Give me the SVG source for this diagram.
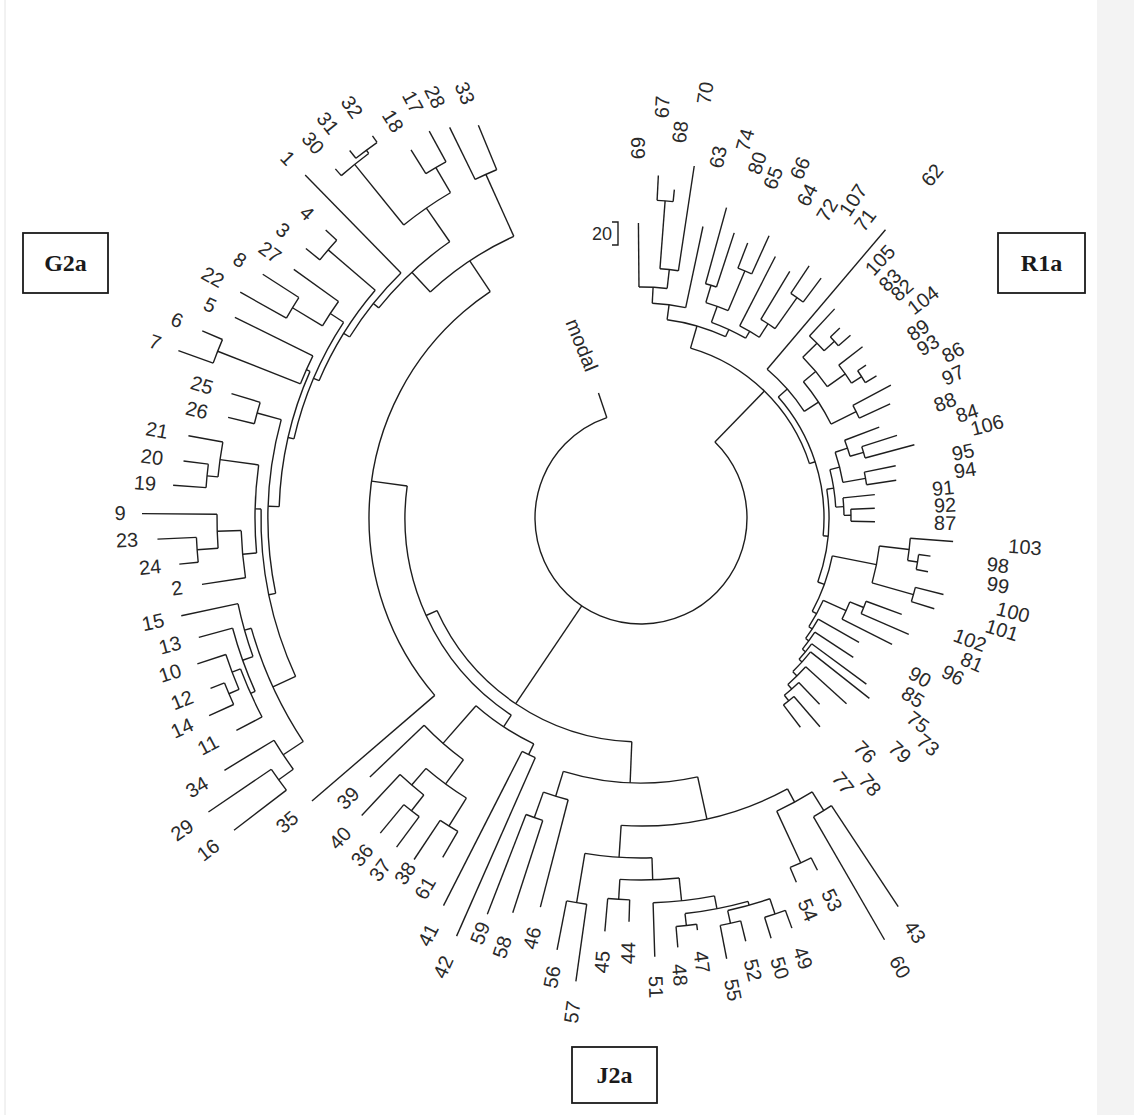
<svg xmlns="http://www.w3.org/2000/svg" width="1134" height="1115" viewBox="0 0 1134 1115">
<style>
.br path,.br circle{fill:none;stroke:#1e1e1e;stroke-width:1.4}
.t{font-family:"Liberation Sans",Arial,sans-serif;font-size:20px;fill:#2a2a2a;text-anchor:middle;dominant-baseline:central}
.box rect{fill:#fff;stroke:#1a1a1a;stroke-width:1.8}
.box text{font-family:"Liberation Serif","Times New Roman",serif;font-size:24px;font-weight:bold;fill:#1a1a1a;text-anchor:middle;dominant-baseline:central}
</style>
<rect width="1134" height="1115" fill="#fff"/>
<rect x="1097" y="0" width="37" height="1115" fill="#f3f3f3"/>
<line x1="5" y1="0" x2="5" y2="1115" stroke="#e4e4e4" stroke-width="1"/>

<!-- fan dendrogram: radials are drawn along +x then rotated; arcs are dashed circles (pathLength 360 = degrees) -->
<g id="branches" class="br" transform="translate(641 518)">
<!-- root -->
<circle r="106" transform="rotate(-45.8)" pathLength="360" stroke-dasharray="297 720"/>
<path transform="rotate(251.2)" d="M106 0H132"/>
<path transform="rotate(-45.8)" d="M106 0H177"/>
<path transform="rotate(124)" d="M106 0H224"/>
<!-- G2a + J2a -->
<circle r="224" transform="rotate(92.35)" pathLength="360" stroke-dasharray="63.25 720"/>
<path transform="rotate(92.35)" d="M224 0H265"/>
<path transform="rotate(155.6)" d="M224 0H236"/>
<circle r="236" transform="rotate(123.35)" pathLength="360" stroke-dasharray="64.45 720"/>
<path transform="rotate(123.35)" d="M236 0H250"/>
<path transform="rotate(187.8)" d="M236 0H272"/>
<!-- 39..42 -->
<circle r="250" transform="rotate(115.4)" pathLength="360" stroke-dasharray="15.9 720"/>
<path transform="rotate(115.4)" d="M250 0H262"/>
<path transform="rotate(131.3)" d="M250 0H300"/>
<circle r="262" transform="rotate(113.8)" pathLength="360" stroke-dasharray="3.2 720"/>
<path transform="rotate(113.8)" d="M262 0H457"/>
<path transform="rotate(117)" d="M262 0H435"/>
<circle r="300" transform="rotate(126.3)" pathLength="360" stroke-dasharray="10 720"/>
<path transform="rotate(136.3)" d="M300 0H375"/>
<path transform="rotate(126.3)" d="M300 0H330"/>
<circle r="330" transform="rotate(121.95)" pathLength="360" stroke-dasharray="8.7 720"/>
<path transform="rotate(130.65)" d="M330 0H352"/>
<path transform="rotate(121.95)" d="M330 0H363"/>
<circle r="352" transform="rotate(128.1)" pathLength="360" stroke-dasharray="5.1 720"/>
<path transform="rotate(133.2)" d="M352 0H408"/>
<path transform="rotate(128.1)" d="M352 0H372"/>
<circle r="372" transform="rotate(126.6)" pathLength="360" stroke-dasharray="3 720"/>
<path transform="rotate(129.6)" d="M372 0H409"/>
<path transform="rotate(126.6)" d="M372 0H410"/>
<circle r="363" transform="rotate(120.3)" pathLength="360" stroke-dasharray="3.3 720"/>
<path transform="rotate(123.6)" d="M363 0H410"/>
<path transform="rotate(120.3)" d="M363 0H393"/>
<!-- G2a -->
<circle r="272" transform="rotate(139.3)" pathLength="360" stroke-dasharray="97.05 720"/>
<path transform="rotate(139.3)" d="M272 0H434"/>
<path transform="rotate(236.35)" d="M272 0H309"/>
<circle r="309" transform="rotate(227)" pathLength="360" stroke-dasharray="18.7 720"/>
<path transform="rotate(245.7)" d="M309 0H377"/>
<path transform="rotate(227)" d="M309 0H336"/>
<circle r="377" transform="rotate(243.9)" pathLength="360" stroke-dasharray="3.6 720"/>
<path transform="rotate(247.5)" d="M377 0H425"/>
<path transform="rotate(243.9)" d="M377 0H435"/>
<circle r="336" transform="rotate(218.7)" pathLength="360" stroke-dasharray="16.6 720"/>
<path transform="rotate(235.3)" d="M336 0H377"/>
<path transform="rotate(218.7)" d="M336 0H343"/>
<circle r="377" transform="rotate(231)" pathLength="360" stroke-dasharray="8.65 720"/>
<path transform="rotate(239.65)" d="M377 0H406"/>
<path transform="rotate(231)" d="M377 0H455"/>
<circle r="406" transform="rotate(238)" pathLength="360" stroke-dasharray="3.3 720"/>
<path transform="rotate(241.3)" d="M406 0H441"/>
<path transform="rotate(238)" d="M406 0H434"/>
<circle r="455" transform="rotate(228.8)" pathLength="360" stroke-dasharray="4.45 720"/>
<path transform="rotate(228.8)" d="M455 0H464"/>
<path transform="rotate(233.25)" d="M455 0H459"/>
<circle r="459" transform="rotate(231.6)" pathLength="360" stroke-dasharray="3.3 720"/>
<path transform="rotate(231.6)" d="M459 0H469"/>
<path transform="rotate(234.9)" d="M459 0H467"/>
<circle r="343" transform="rotate(211.85)" pathLength="360" stroke-dasharray="13.75 720"/>
<path transform="rotate(225.6)" d="M343 0H480"/>
<path transform="rotate(211.85)" d="M343 0H350"/>
<circle r="350" transform="rotate(203.1)" pathLength="360" stroke-dasharray="17.5 720"/>
<path transform="rotate(220.6)" d="M350 0H412"/>
<path transform="rotate(203.1)" d="M350 0H356"/>
<circle r="412" transform="rotate(218.8)" pathLength="360" stroke-dasharray="3.6 720"/>
<path transform="rotate(222.4)" d="M412 0H427"/>
<path transform="rotate(218.8)" d="M412 0H430"/>
<circle r="356" transform="rotate(192.85)" pathLength="360" stroke-dasharray="20.5 720"/>
<path transform="rotate(213.35)" d="M356 0H372"/>
<path transform="rotate(192.85)" d="M356 0H362"/>
<circle r="372" transform="rotate(211.1)" pathLength="360" stroke-dasharray="4.5 720"/>
<path transform="rotate(215.6)" d="M372 0H427"/>
<path transform="rotate(211.1)" d="M372 0H407"/>
<circle r="407" transform="rotate(209.4)" pathLength="360" stroke-dasharray="3.4 720"/>
<path transform="rotate(212.8)" d="M407 0H450"/>
<path transform="rotate(209.4)" d="M407 0H460"/>
<circle r="362" transform="rotate(181.8)" pathLength="360" stroke-dasharray="22.1 720"/>
<path transform="rotate(203.9)" d="M362 0H366"/>
<path transform="rotate(181.8)" d="M362 0H373"/>
<circle r="366" transform="rotate(201.5)" pathLength="360" stroke-dasharray="4.8 720"/>
<path transform="rotate(206.3)" d="M366 0H453"/>
<path transform="rotate(201.5)" d="M366 0H455"/>
<circle r="455" transform="rotate(199.9)" pathLength="360" stroke-dasharray="3.2 720"/>
<path transform="rotate(203.1)" d="M455 0H477"/>
<path transform="rotate(199.9)" d="M455 0H492"/>
<circle r="373" transform="rotate(168.35)" pathLength="360" stroke-dasharray="26.95 720"/>
<path transform="rotate(195.3)" d="M373 0H398"/>
<path transform="rotate(168.35)" d="M373 0H380"/>
<circle r="398" transform="rotate(193.7)" pathLength="360" stroke-dasharray="3.2 720"/>
<path transform="rotate(196.9)" d="M398 0H428"/>
<path transform="rotate(193.7)" d="M398 0H425"/>
<circle r="380" transform="rotate(155.35)" pathLength="360" stroke-dasharray="26 720"/>
<path transform="rotate(181.35)" d="M380 0H386"/>
<path transform="rotate(155.35)" d="M380 0H405"/>
<circle r="386" transform="rotate(174.8)" pathLength="360" stroke-dasharray="13.1 720"/>
<path transform="rotate(187.9)" d="M386 0H425"/>
<path transform="rotate(174.8)" d="M386 0H400"/>
<circle r="425" transform="rotate(185.55)" pathLength="360" stroke-dasharray="4.75 720"/>
<path transform="rotate(190.3)" d="M425 0H460"/>
<path transform="rotate(185.55)" d="M425 0H436"/>
<circle r="436" transform="rotate(184)" pathLength="360" stroke-dasharray="3.1 720"/>
<path transform="rotate(187.1)" d="M436 0H461"/>
<path transform="rotate(184)" d="M436 0H469"/>
<circle r="400" transform="rotate(171.4)" pathLength="360" stroke-dasharray="6.8 720"/>
<path transform="rotate(178.2)" d="M400 0H424"/>
<path transform="rotate(171.4)" d="M400 0H444"/>
<circle r="424" transform="rotate(175.9)" pathLength="360" stroke-dasharray="4.6 720"/>
<path transform="rotate(180.5)" d="M424 0H499"/>
<path transform="rotate(175.9)" d="M424 0H445"/>
<circle r="445" transform="rotate(174.3)" pathLength="360" stroke-dasharray="3.2 720"/>
<path transform="rotate(177.5)" d="M445 0H484"/>
<path transform="rotate(174.3)" d="M445 0H464"/>
<circle r="405" transform="rotate(146.5)" pathLength="360" stroke-dasharray="17.7 720"/>
<path transform="rotate(164.2)" d="M405 0H412"/>
<path transform="rotate(146.5)" d="M405 0H429"/>
<circle r="412" transform="rotate(160.35)" pathLength="360" stroke-dasharray="7.65 720"/>
<path transform="rotate(168)" d="M412 0H470"/>
<path transform="rotate(160.35)" d="M412 0H423"/>
<circle r="423" transform="rotate(155.8)" pathLength="360" stroke-dasharray="9.1 720"/>
<path transform="rotate(164.9)" d="M423 0H458"/>
<path transform="rotate(155.8)" d="M423 0H428"/>
<circle r="428" transform="rotate(152.3)" pathLength="360" stroke-dasharray="7.05 720"/>
<path transform="rotate(159.35)" d="M428 0H437"/>
<path transform="rotate(152.3)" d="M428 0H457"/>
<circle r="437" transform="rotate(156.9)" pathLength="360" stroke-dasharray="4.9 720"/>
<path transform="rotate(161.8)" d="M437 0H467"/>
<path transform="rotate(156.9)" d="M437 0H448"/>
<circle r="448" transform="rotate(155.4)" pathLength="360" stroke-dasharray="3 720"/>
<path transform="rotate(158.4)" d="M448 0H463"/>
<path transform="rotate(155.4)" d="M448 0H475"/>
<circle r="429" transform="rotate(144.15)" pathLength="360" stroke-dasharray="4.65 720"/>
<path transform="rotate(148.8)" d="M429 0H487"/>
<path transform="rotate(144.15)" d="M429 0H447"/>
<circle r="447" transform="rotate(142.5)" pathLength="360" stroke-dasharray="3.3 720"/>
<path transform="rotate(145.8)" d="M447 0H523"/>
<path transform="rotate(142.5)" d="M447 0H513"/>
<!-- J2a -->
<circle r="265" transform="rotate(77.65)" pathLength="360" stroke-dasharray="29.4 720"/>
<path transform="rotate(107.05)" d="M265 0H291"/>
<path transform="rotate(77.65)" d="M265 0H308"/>
<circle r="291" transform="rotate(104.5)" pathLength="360" stroke-dasharray="5.1 720"/>
<path transform="rotate(104.5)" d="M291 0H402"/>
<path transform="rotate(109.6)" d="M291 0H318"/>
<circle r="318" transform="rotate(108)" pathLength="360" stroke-dasharray="3.2 720"/>
<path transform="rotate(111.2)" d="M318 0H425"/>
<path transform="rotate(108)" d="M318 0H415"/>
<circle r="308" transform="rotate(61.6)" pathLength="360" stroke-dasharray="32.1 720"/>
<path transform="rotate(93.7)" d="M308 0H340"/>
<path transform="rotate(61.6)" d="M308 0H323"/>
<circle r="340" transform="rotate(88.15)" pathLength="360" stroke-dasharray="11.35 720"/>
<path transform="rotate(99.5)" d="M340 0H390"/>
<path transform="rotate(88.15)" d="M340 0H362"/>
<circle r="390" transform="rotate(98)" pathLength="360" stroke-dasharray="3 720"/>
<path transform="rotate(101)" d="M390 0H440"/>
<path transform="rotate(98)" d="M390 0H468"/>
<circle r="362" transform="rotate(83.95)" pathLength="360" stroke-dasharray="9.4 720"/>
<path transform="rotate(93.35)" d="M362 0H382"/>
<path transform="rotate(83.95)" d="M362 0H385"/>
<circle r="382" transform="rotate(91.7)" pathLength="360" stroke-dasharray="3.3 720"/>
<path transform="rotate(95)" d="M382 0H415"/>
<path transform="rotate(91.7)" d="M382 0H404"/>
<circle r="385" transform="rotate(79)" pathLength="360" stroke-dasharray="9.2 720"/>
<path transform="rotate(88.2)" d="M385 0H439"/>
<path transform="rotate(79)" d="M385 0H398"/>
<circle r="398" transform="rotate(74.4)" pathLength="360" stroke-dasharray="9.25 720"/>
<path transform="rotate(83.65)" d="M398 0H410"/>
<path transform="rotate(74.4)" d="M398 0H402"/>
<circle r="410" transform="rotate(82.2)" pathLength="360" stroke-dasharray="2.9 720"/>
<path transform="rotate(85.1)" d="M410 0H431"/>
<path transform="rotate(82.2)" d="M410 0H416"/>
<circle r="402" transform="rotate(71.3)" pathLength="360" stroke-dasharray="6.25 720"/>
<path transform="rotate(77.55)" d="M402 0H415"/>
<path transform="rotate(71.3)" d="M402 0H418"/>
<circle r="415" transform="rotate(76.1)" pathLength="360" stroke-dasharray="2.9 720"/>
<path transform="rotate(79)" d="M415 0H449"/>
<path transform="rotate(76.1)" d="M415 0H436"/>
<circle r="418" transform="rotate(69.8)" pathLength="360" stroke-dasharray="3 720"/>
<path transform="rotate(72.8)" d="M418 0H440"/>
<path transform="rotate(69.8)" d="M418 0H437"/>
<circle r="323" transform="rotate(58)" pathLength="360" stroke-dasharray="7.15 720"/>
<path transform="rotate(65.15)" d="M323 0H380"/>
<path transform="rotate(58)" d="M323 0H345"/>
<circle r="380" transform="rotate(63.4)" pathLength="360" stroke-dasharray="3.5 720"/>
<path transform="rotate(66.9)" d="M380 0H396"/>
<path transform="rotate(63.4)" d="M380 0H394"/>
<circle r="345" transform="rotate(56.5)" pathLength="360" stroke-dasharray="3.5 720"/>
<path transform="rotate(60)" d="M345 0H487"/>
<path transform="rotate(56.5)" d="M345 0H466"/>
<!-- R1a -->
<circle r="177" transform="rotate(-73.75)" pathLength="360" stroke-dasharray="55.85 720"/>
<path transform="rotate(-73.75)" d="M177 0H200"/>
<path transform="rotate(-17.9)" d="M177 0H183"/>
<circle r="200" transform="rotate(-82.5)" pathLength="360" stroke-dasharray="17.5 720"/>
<path transform="rotate(-82.5)" d="M200 0H215"/>
<path transform="rotate(-65)" d="M200 0H208"/>
<circle r="215" transform="rotate(-87)" pathLength="360" stroke-dasharray="9 720"/>
<path transform="rotate(-87)" d="M215 0H231"/>
<path transform="rotate(-78)" d="M215 0H298"/>
<circle r="231" transform="rotate(-90.5)" pathLength="360" stroke-dasharray="7 720"/>
<path transform="rotate(-90.5)" d="M231 0H295"/>
<path transform="rotate(-83.5)" d="M231 0H250"/>
<circle r="250" transform="rotate(-85.65)" pathLength="360" stroke-dasharray="4.25 720"/>
<path transform="rotate(-85.65)" d="M250 0H318"/>
<path transform="rotate(-81.4)" d="M250 0H356"/>
<circle r="318" transform="rotate(-87.1)" pathLength="360" stroke-dasharray="2.9 720"/>
<path transform="rotate(-87.1)" d="M318 0H343"/>
<path transform="rotate(-84.2)" d="M318 0H330"/>
<circle r="208" transform="rotate(-70.2)" pathLength="360" stroke-dasharray="10.4 720"/>
<path transform="rotate(-70.2)" d="M208 0H225"/>
<path transform="rotate(-59.8)" d="M208 0H216"/>
<circle r="225" transform="rotate(-73.25)" pathLength="360" stroke-dasharray="6.05 720"/>
<path transform="rotate(-73.25)" d="M225 0H243"/>
<path transform="rotate(-67.2)" d="M225 0H268"/>
<circle r="243" transform="rotate(-74.6)" pathLength="360" stroke-dasharray="2.7 720"/>
<path transform="rotate(-74.6)" d="M243 0H322"/>
<path transform="rotate(-71.9)" d="M243 0H300"/>
<circle r="268" transform="rotate(-68.8)" pathLength="360" stroke-dasharray="3.2 720"/>
<path transform="rotate(-68.8)" d="M268 0H295"/>
<path transform="rotate(-65.6)" d="M268 0H310"/>
<circle r="216" transform="rotate(-62.8)" pathLength="360" stroke-dasharray="6 720"/>
<path transform="rotate(-62.8)" d="M216 0H294"/>
<path transform="rotate(-56.8)" d="M216 0H232"/>
<circle r="232" transform="rotate(-58.9)" pathLength="360" stroke-dasharray="4.2 720"/>
<path transform="rotate(-58.9)" d="M232 0H288"/>
<path transform="rotate(-54.7)" d="M232 0H270"/>
<circle r="270" transform="rotate(-56.3)" pathLength="360" stroke-dasharray="3.2 720"/>
<path transform="rotate(-56.3)" d="M270 0H303"/>
<path transform="rotate(-53.1)" d="M270 0H300"/>
<circle r="183" transform="rotate(-41.4)" pathLength="360" stroke-dasharray="46.95 720"/>
<path transform="rotate(-41.4)" d="M183 0H195"/>
<path transform="rotate(5.55)" d="M183 0H188"/>
<circle r="195" transform="rotate(-49.7)" pathLength="360" stroke-dasharray="16.55 720"/>
<path transform="rotate(-49.7)" d="M195 0H378"/>
<path transform="rotate(-33.15)" d="M195 0H212"/>
<circle r="212" transform="rotate(-40)" pathLength="360" stroke-dasharray="13.7 720"/>
<path transform="rotate(-40)" d="M212 0H228"/>
<path transform="rotate(-26.3)" d="M212 0H240"/>
<circle r="228" transform="rotate(-44.8)" pathLength="360" stroke-dasharray="9.6 720"/>
<path transform="rotate(-44.8)" d="M228 0H248"/>
<path transform="rotate(-35.2)" d="M228 0H250"/>
<circle r="248" transform="rotate(-47.2)" pathLength="360" stroke-dasharray="4.8 720"/>
<path transform="rotate(-47.2)" d="M248 0H285"/>
<path transform="rotate(-42.4)" d="M248 0H262"/>
<circle r="262" transform="rotate(-43.7)" pathLength="360" stroke-dasharray="2.6 720"/>
<path transform="rotate(-43.7)" d="M262 0H275"/>
<path transform="rotate(-41.1)" d="M262 0H278"/>
<circle r="250" transform="rotate(-37.7)" pathLength="360" stroke-dasharray="5.05 720"/>
<path transform="rotate(-37.7)" d="M250 0H280"/>
<path transform="rotate(-32.65)" d="M250 0H262"/>
<circle r="262" transform="rotate(-34.2)" pathLength="360" stroke-dasharray="3.1 720"/>
<path transform="rotate(-34.2)" d="M262 0H272"/>
<path transform="rotate(-31.1)" d="M262 0H275"/>
<circle r="240" transform="rotate(-28)" pathLength="360" stroke-dasharray="3.4 720"/>
<path transform="rotate(-28)" d="M240 0H283"/>
<path transform="rotate(-24.6)" d="M240 0H274"/>
<circle r="188" transform="rotate(-8.8)" pathLength="360" stroke-dasharray="28.7 720"/>
<path transform="rotate(-8.8)" d="M188 0H195"/>
<path transform="rotate(19.9)" d="M188 0H195"/>
<circle r="195" transform="rotate(-14.35)" pathLength="360" stroke-dasharray="11.15 720"/>
<path transform="rotate(-14.35)" d="M195 0H205"/>
<path transform="rotate(-3.2)" d="M195 0H203"/>
<circle r="205" transform="rotate(-18.7)" pathLength="360" stroke-dasharray="8.7 720"/>
<path transform="rotate(-18.7)" d="M205 0H218"/>
<path transform="rotate(-10)" d="M205 0H228"/>
<circle r="218" transform="rotate(-20.9)" pathLength="360" stroke-dasharray="4.45 720"/>
<path transform="rotate(-20.9)" d="M218 0H255"/>
<path transform="rotate(-16.45)" d="M218 0H232"/>
<circle r="232" transform="rotate(-17.9)" pathLength="360" stroke-dasharray="2.9 720"/>
<path transform="rotate(-17.9)" d="M232 0H269"/>
<path transform="rotate(-15)" d="M232 0H283"/>
<circle r="228" transform="rotate(-11.6)" pathLength="360" stroke-dasharray="3.2 720"/>
<path transform="rotate(-11.6)" d="M228 0H260"/>
<path transform="rotate(-8.4)" d="M228 0H258"/>
<circle r="203" transform="rotate(-5.7)" pathLength="360" stroke-dasharray="4.95 720"/>
<path transform="rotate(-5.7)" d="M203 0H235"/>
<path transform="rotate(-0.75)" d="M203 0H210"/>
<circle r="210" transform="rotate(-2.4)" pathLength="360" stroke-dasharray="3.3 720"/>
<path transform="rotate(-2.4)" d="M210 0H234"/>
<path transform="rotate(0.9)" d="M210 0H234"/>
<circle r="195" transform="rotate(11.2)" pathLength="360" stroke-dasharray="17.4 720"/>
<path transform="rotate(11.2)" d="M195 0H240"/>
<path transform="rotate(28.6)" d="M195 0H200"/>
<circle r="240" transform="rotate(6.7)" pathLength="360" stroke-dasharray="9 720"/>
<path transform="rotate(6.7)" d="M240 0H270"/>
<path transform="rotate(15.7)" d="M240 0H283"/>
<circle r="270" transform="rotate(4.3)" pathLength="360" stroke-dasharray="4.75 720"/>
<path transform="rotate(4.3)" d="M270 0H313"/>
<path transform="rotate(9.05)" d="M270 0H280"/>
<circle r="280" transform="rotate(7.5)" pathLength="360" stroke-dasharray="3.1 720"/>
<path transform="rotate(7.5)" d="M280 0H292"/>
<path transform="rotate(10.6)" d="M280 0H292"/>
<circle r="283" transform="rotate(14.2)" pathLength="360" stroke-dasharray="3 720"/>
<path transform="rotate(14.2)" d="M283 0H312"/>
<path transform="rotate(17.2)" d="M283 0H307"/>
<circle r="200" transform="rotate(24.3)" pathLength="360" stroke-dasharray="8.65 720"/>
<path transform="rotate(24.3)" d="M200 0H225"/>
<path transform="rotate(32.95)" d="M200 0H204"/>
<circle r="225" transform="rotate(21.9)" pathLength="360" stroke-dasharray="4.8 720"/>
<path transform="rotate(21.9)" d="M225 0H240"/>
<path transform="rotate(26.7)" d="M225 0H281"/>
<circle r="240" transform="rotate(20.3)" pathLength="360" stroke-dasharray="3.2 720"/>
<path transform="rotate(20.3)" d="M240 0H278"/>
<path transform="rotate(23.5)" d="M240 0H292"/>
<circle r="204" transform="rotate(29.7)" pathLength="360" stroke-dasharray="6.5 720"/>
<path transform="rotate(29.7)" d="M204 0H251"/>
<path transform="rotate(36.2)" d="M204 0H208"/>
<circle r="208" transform="rotate(33.3)" pathLength="360" stroke-dasharray="5.8 720"/>
<path transform="rotate(33.3)" d="M208 0H254"/>
<path transform="rotate(39.1)" d="M208 0H212"/>
<circle r="212" transform="rotate(36.4)" pathLength="360" stroke-dasharray="5.4 720"/>
<path transform="rotate(36.4)" d="M212 0H280"/>
<path transform="rotate(41.8)" d="M212 0H216"/>
<circle r="216" transform="rotate(38.3)" pathLength="360" stroke-dasharray="7.05 720"/>
<path transform="rotate(38.3)" d="M216 0H291"/>
<path transform="rotate(45.35)" d="M216 0H222"/>
<circle r="222" transform="rotate(42.1)" pathLength="360" stroke-dasharray="6.5 720"/>
<path transform="rotate(42.1)" d="M222 0H277"/>
<path transform="rotate(48.6)" d="M222 0H228"/>
<circle r="228" transform="rotate(46.2)" pathLength="360" stroke-dasharray="4.85 720"/>
<path transform="rotate(46.2)" d="M228 0H258"/>
<path transform="rotate(51.05)" d="M228 0H235"/>
<circle r="235" transform="rotate(49.4)" pathLength="360" stroke-dasharray="3.3 720"/>
<path transform="rotate(49.4)" d="M235 0H275"/>
<path transform="rotate(52.7)" d="M235 0H263"/>
</g>
<path id="bracket-20" d="M612 222H618V245H612" fill="none" stroke="#1e1e1e" stroke-width="1.4"/>

<!-- tip labels -->
<g id="tips" class="t">
<g id="t-modal"><text transform="translate(582 345) rotate(68)">modal</text></g>
<g id="t20b"><text transform="translate(602 234)" style="font-size:18px">20</text></g>
<g id="t33"><text transform="translate(465 93) rotate(67.5)">33</text></g>
<g id="t28"><text transform="translate(435 97) rotate(63.9)">28</text></g>
<g id="t17"><text transform="translate(413 102) rotate(61.3)">17</text></g>
<g id="t18"><text transform="translate(393 121) rotate(58)">18</text></g>
<g id="t32"><text transform="translate(352 107) rotate(54.9)">32</text></g>
<g id="t31"><text transform="translate(328 123) rotate(51.6)">31</text></g>
<g id="t30"><text transform="translate(313 143) rotate(48.8)">30</text></g>
<g id="t1"><text transform="translate(288 158) rotate(45.6)">1</text></g>
<g id="t4"><text transform="translate(307 213) rotate(42.4)">4</text></g>
<g id="t3"><text transform="translate(283 230) rotate(38.8)">3</text></g>
<g id="t27"><text transform="translate(270 252) rotate(35.6)">27</text></g>
<g id="t8"><text transform="translate(240 260) rotate(32.8)">8</text></g>
<g id="t22"><text transform="translate(213 277) rotate(29.4)">22</text></g>
<g id="t5"><text transform="translate(210 305) rotate(26.3)">5</text></g>
<g id="t6"><text transform="translate(177 320) rotate(23.1)">6</text></g>
<g id="t7"><text transform="translate(155 342) rotate(19.9)">7</text></g>
<g id="t25"><text transform="translate(202 385) rotate(16.9)">25</text></g>
<g id="t26"><text transform="translate(197 410) rotate(13.7)">26</text></g>
<g id="t21"><text transform="translate(157 430) rotate(10.3)">21</text></g>
<g id="t20"><text transform="translate(152 457) rotate(7.1)">20</text></g>
<g id="t19"><text transform="translate(145 483) rotate(4)">19</text></g>
<g id="t9"><text transform="translate(120 513) rotate(0.5)">9</text></g>
<g id="t23"><text transform="translate(127 540) rotate(-2.5)">23</text></g>
<g id="t24"><text transform="translate(150 567) rotate(-5.7)">24</text></g>
<g id="t2"><text transform="translate(177 588) rotate(-8.6)">2</text></g>
<g id="t15"><text transform="translate(153 622) rotate(-12)">15</text></g>
<g id="t13"><text transform="translate(170 645) rotate(-15.1)">13</text></g>
<g id="t10"><text transform="translate(170 673) rotate(-18.2)">10</text></g>
<g id="t12"><text transform="translate(182 700) rotate(-21.6)">12</text></g>
<g id="t14"><text transform="translate(182 728) rotate(-24.6)">14</text></g>
<g id="t11"><text transform="translate(208 745) rotate(-27.7)">11</text></g>
<g id="t34"><text transform="translate(197 787) rotate(-31.2)">34</text></g>
<g id="t29"><text transform="translate(182 830) rotate(-34.2)">29</text></g>
<g id="t16"><text transform="translate(208 850) rotate(-37.5)">16</text></g>
<g id="t35"><text transform="translate(287 822) rotate(-40.7)">35</text></g>
<g id="t39"><text transform="translate(348 798) rotate(-43.7)">39</text></g>
<g id="t40"><text transform="translate(340 838) rotate(-46.8)">40</text></g>
<g id="t36"><text transform="translate(362 855) rotate(-50.4)">36</text></g>
<g id="t37"><text transform="translate(380 870) rotate(-53.4)">37</text></g>
<g id="t38"><text transform="translate(405 873) rotate(-56.4)">38</text></g>
<g id="t61"><text transform="translate(425 888) rotate(-59.7)">61</text></g>
<g id="t41"><text transform="translate(428 935) rotate(-63)">41</text></g>
<g id="t42"><text transform="translate(443 967) rotate(-66.2)">42</text></g>
<g id="t59"><text transform="translate(480 933) rotate(-68.8)">59</text></g>
<g id="t58"><text transform="translate(502 947) rotate(-72)">58</text></g>
<g id="t46"><text transform="translate(532 938) rotate(-75.5)">46</text></g>
<g id="t56"><text transform="translate(552 977) rotate(-79)">56</text></g>
<g id="t57"><text transform="translate(572 1012) rotate(-82)">57</text></g>
<g id="t45"><text transform="translate(602 962) rotate(-85)">45</text></g>
<g id="t44"><text transform="translate(628 953) rotate(-88.3)">44</text></g>
<g id="t51"><text transform="translate(656 987) rotate(88.2)">51</text></g>
<g id="t48"><text transform="translate(680 975) rotate(85.1)">48</text></g>
<g id="t47"><text transform="translate(702 962) rotate(82.2)">47</text></g>
<g id="t55"><text transform="translate(733 990) rotate(79)">55</text></g>
<g id="t52"><text transform="translate(753 970) rotate(76.1)">52</text></g>
<g id="t50"><text transform="translate(780 968) rotate(72.8)">50</text></g>
<g id="t49"><text transform="translate(803 958) rotate(69.8)">49</text></g>
<g id="t54"><text transform="translate(808 910) rotate(66.9)">54</text></g>
<g id="t53"><text transform="translate(832 900) rotate(63.4)">53</text></g>
<g id="t60"><text transform="translate(900 967) rotate(60)">60</text></g>
<g id="t43"><text transform="translate(915 932) rotate(56.5)">43</text></g>
<g id="t77"><text transform="translate(843 783) rotate(52.7)">77</text></g>
<g id="t78"><text transform="translate(870 785) rotate(49.4)">78</text></g>
<g id="t76"><text transform="translate(865 752) rotate(46.2)">76</text></g>
<g id="t79"><text transform="translate(900 752) rotate(42.1)">79</text></g>
<g id="t73"><text transform="translate(928 745) rotate(38.3)">73</text></g>
<g id="t75"><text transform="translate(918 722) rotate(36.4)">75</text></g>
<g id="t85"><text transform="translate(913 697) rotate(33.3)">85</text></g>
<g id="t90"><text transform="translate(920 677) rotate(29.7)">90</text></g>
<g id="t96"><text transform="translate(953 675) rotate(26.7)">96</text></g>
<g id="t81"><text transform="translate(972 662) rotate(23.5)">81</text></g>
<g id="t102"><text transform="translate(970 640) rotate(20.3)">102</text></g>
<g id="t101"><text transform="translate(1002 630) rotate(17.2)">101</text></g>
<g id="t100"><text transform="translate(1013 612) rotate(14.2)">100</text></g>
<g id="t99"><text transform="translate(998 585) rotate(10.6)">99</text></g>
<g id="t98"><text transform="translate(998 565) rotate(7.5)">98</text></g>
<g id="t103"><text transform="translate(1025 547) rotate(4.3)">103</text></g>
<g id="t87"><text transform="translate(945 523) rotate(0.9)">87</text></g>
<g id="t92"><text transform="translate(945 505) rotate(-2.4)">92</text></g>
<g id="t91"><text transform="translate(943 488) rotate(-5.7)">91</text></g>
<g id="t94"><text transform="translate(965 470) rotate(-8.4)">94</text></g>
<g id="t95"><text transform="translate(963 452) rotate(-11.6)">95</text></g>
<g id="t106"><text transform="translate(987 425) rotate(-15)">106</text></g>
<g id="t84"><text transform="translate(967 413) rotate(-17.9)">84</text></g>
<g id="t88"><text transform="translate(945 402) rotate(-20.9)">88</text></g>
<g id="t97"><text transform="translate(953 375) rotate(-24.6)">97</text></g>
<g id="t86"><text transform="translate(953 352) rotate(-28)">86</text></g>
<g id="t93"><text transform="translate(928 345) rotate(-31.1)">93</text></g>
<g id="t89"><text transform="translate(918 330) rotate(-34.2)">89</text></g>
<g id="t104"><text transform="translate(923 300) rotate(-37.7)">104</text></g>
<g id="t82"><text transform="translate(902 290) rotate(-41.1)">82</text></g>
<g id="t83"><text transform="translate(890 280) rotate(-43.7)">83</text></g>
<g id="t105"><text transform="translate(880 260) rotate(-47.2)">105</text></g>
<g id="t62"><text transform="translate(932 175) rotate(-49.7)">62</text></g>
<g id="t71"><text transform="translate(865 220) rotate(-53.1)">71</text></g>
<g id="t107"><text transform="translate(853 200) rotate(-56.3)">107</text></g>
<g id="t72"><text transform="translate(827 210) rotate(-58.9)">72</text></g>
<g id="t64"><text transform="translate(807 195) rotate(-62.8)">64</text></g>
<g id="t66"><text transform="translate(800 168) rotate(-65.6)">66</text></g>
<g id="t65"><text transform="translate(773 178) rotate(-68.8)">65</text></g>
<g id="t80"><text transform="translate(757 163) rotate(-71.9)">80</text></g>
<g id="t74"><text transform="translate(745 140) rotate(-74.6)">74</text></g>
<g id="t63"><text transform="translate(718 157) rotate(-78)">63</text></g>
<g id="t70"><text transform="translate(705 93) rotate(-81.4)">70</text></g>
<g id="t68"><text transform="translate(680 132) rotate(-84.2)">68</text></g>
<g id="t67"><text transform="translate(662 107) rotate(-87.1)">67</text></g>
<g id="t69"><text transform="translate(638 148) rotate(-90)">69</text></g>
</g>

<!-- haplogroup boxes -->
<g id="g2a" class="box"><rect x="23" y="233" width="85" height="60"/><text x="65.5" y="263">G2a</text></g>
<g id="r1a" class="box"><rect x="998" y="233" width="87" height="60"/><text x="1041.5" y="263">R1a</text></g>
<g id="j2a" class="box"><rect x="572" y="1047" width="85" height="56"/><text x="614.5" y="1075">J2a</text></g>
</svg>
